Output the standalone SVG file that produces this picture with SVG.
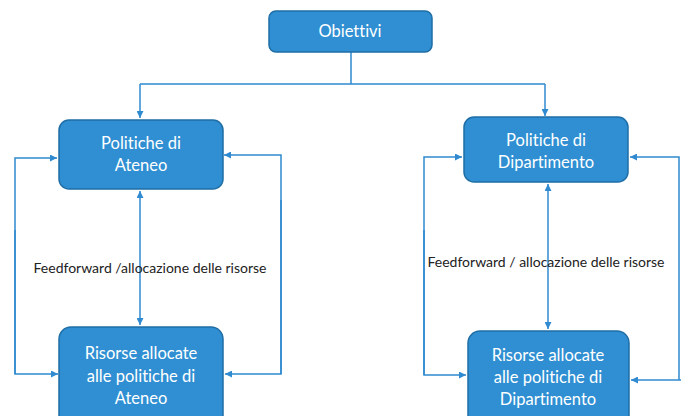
<svg xmlns="http://www.w3.org/2000/svg" width="681" height="416" viewBox="0 0 681 416">
<defs>
<marker id="ah" viewBox="0 0 10 10" refX="10" refY="5" markerWidth="7" markerHeight="7" orient="auto-start-reverse" markerUnits="userSpaceOnUse">
<path d="M0,0 L10,5 L0,10 z" fill="#2f8ad0"/>
</marker>
<style>
text{font-variant-ligatures:none;font-feature-settings:"liga" 0,"dlig" 0}
.box{fill:#2f8fd2;stroke:#1f6ea6;stroke-width:1.5}
.bt{font-family:Lato,"Open Sans",sans-serif;font-size:16.5px;fill:#ffffff;text-anchor:middle}
.lbl{font-family:Lato,"Open Sans",sans-serif;font-size:14px;fill:#222;text-anchor:middle}
.c{fill:none;stroke:#2f8ad0;stroke-width:1.5}
</style>
</defs>
<rect width="681" height="416" fill="#ffffff"/>
<g id="connectors">
<path class="c" d="M351,52 V84 M140,84 H545"/>
<path class="c" d="M140,84 V118" marker-end="url(#ah)"/>
<path class="c" d="M545,84 V116" marker-end="url(#ah)"/>
<path class="c" d="M140,191 V325" marker-start="url(#ah)" marker-end="url(#ah)"/>
<path class="c" d="M15,374 V158 H57" marker-end="url(#ah)"/>
<path class="c" d="M15,230 V374 H58" marker-end="url(#ah)"/>
<path class="c" d="M281,374 V155 H224" marker-end="url(#ah)"/>
<path class="c" d="M281,200 V374 H225" marker-end="url(#ah)"/>
<path class="c" d="M548,184 V329" marker-start="url(#ah)" marker-end="url(#ah)"/>
<path class="c" d="M424,375 V157 H462" marker-end="url(#ah)"/>
<path class="c" d="M424,230 V375 H466" marker-end="url(#ah)"/>
<path class="c" d="M679,380 V157 H630" marker-end="url(#ah)"/>
<path class="c" d="M681,380 H631" marker-end="url(#ah)"/>
</g>
<g id="label-left"><text class="lbl" x="150" y="273">Feedforward /allocazione delle risorse</text></g>
<g id="label-right"><text class="lbl" x="546" y="267">Feedforward / allocazione delle risorse</text></g>
<g id="obiettivi">
<rect class="box" x="269" y="11" width="163" height="41" rx="7"/>
<text class="bt" x="350" y="37">Obiettivi</text>
</g>
<g id="politiche-ateneo">
<rect class="box" x="59" y="120" width="164" height="69" rx="10"/>
<text class="bt" x="141" y="149">Politiche di</text>
<text class="bt" x="141" y="171">Ateneo</text>
</g>
<g id="risorse-ateneo">
<rect class="box" x="59" y="327" width="164" height="100" rx="12"/>
<text class="bt" x="141" y="359">Risorse allocate</text>
<text class="bt" x="141" y="382">alle politiche di</text>
<text class="bt" x="141" y="404">Ateneo</text>
</g>
<g id="politiche-dipartimento">
<rect class="box" x="464" y="117" width="164" height="65" rx="10"/>
<text class="bt" x="546" y="146">Politiche di</text>
<text class="bt" x="546" y="168">Dipartimento</text>
</g>
<g id="risorse-dipartimento">
<rect class="box" x="468" y="331" width="161" height="100" rx="12"/>
<text class="bt" x="548" y="361">Risorse allocate</text>
<text class="bt" x="548" y="383">alle politiche di</text>
<text class="bt" x="548" y="405">Dipartimento</text>
</g>
</svg>
